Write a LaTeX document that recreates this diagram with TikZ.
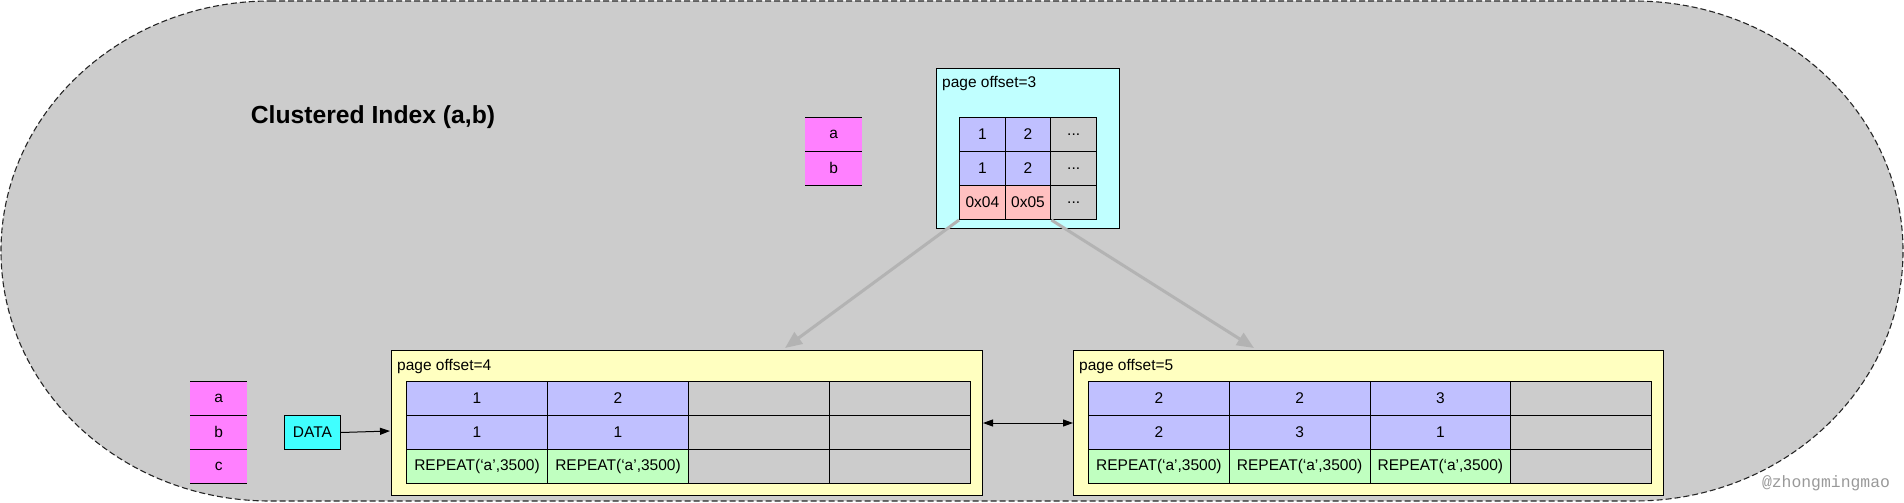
\documentclass[tikz,border=0pt]{standalone}
\usepackage{fontspec}
\setmainfont{Liberation Sans}
\newfontfamily\wmfont{Liberation Mono}
\usetikzlibrary{arrows.meta,calc}
\definecolor{bg}{HTML}{CCCCCC}
\definecolor{cyanpg}{HTML}{C0FFFF}
\definecolor{yelpg}{HTML}{FFFFC0}
\definecolor{lav}{HTML}{C0C0FF}
\definecolor{grn}{HTML}{C0FFC0}
\definecolor{pnk}{HTML}{FFC0C0}
\definecolor{mag}{HTML}{FF80FF}
\definecolor{datac}{HTML}{40FFFF}
\definecolor{arrg}{HTML}{B3B3B3}
\definecolor{wmc}{HTML}{999999}
\begin{document}
\begin{tikzpicture}[x=1pt,y=-1pt,
  font=\fontsize{15.5}{18}\selectfont,
  cell/.style={draw=black, line width=1pt, inner sep=0pt, anchor=north west, minimum height=34pt},
  tcell/.style={cell, minimum width=45.7pt},
  pcell/.style={cell, minimum width=141pt},
  qcell/.style={cell, minimum width=140.75pt},
  page/.style={draw=black, line width=1pt, inner sep=0pt, anchor=north west},
  keyc/.style={fill=mag, inner sep=0pt, anchor=north west, minimum width=57pt, minimum height=34pt},
  lbl/.style={anchor=base west, inner sep=0pt},
  grayarrow/.style={draw=arrg, line width=3pt, -{Triangle[length=17pt,width=14pt]}},
  blackarrow/.style={draw=black, line width=1pt, -{Triangle[length=10pt,width=7pt]}}
]
\useasboundingbox (0,0) rectangle (1904,503);
% outer container
\path[fill=bg, draw=black!85, dash pattern=on 6pt off 3pt, line width=1.1pt]
  (270,1) -- (1634,1) arc[start angle=90,end angle=-90,x radius=269pt,y radius=250pt]
  -- (270,501) arc[start angle=270,end angle=90,x radius=269pt,y radius=250pt] -- cycle;

% title
\node[font=\fontsize{24.7}{28}\selectfont\bfseries, inner sep=0pt] (title) at (373,117) {Clustered Index (a,b)};

% key a,b (top)
\node[keyc] (ka) at (805,117) {a};
\node[keyc] (kb) at (805,151) {b};
\draw[line width=1pt] (ka.north west) -- (ka.north east);
\draw[line width=1pt] (ka.south west) -- (ka.south east);
\draw[line width=1pt] (kb.south west) -- (kb.south east);

% key a,b,c (bottom)
\node[keyc] (la) at (190,381) {a};
\node[keyc] (lb) at (190,415) {b};
\node[keyc] (lc) at (190,449) {c};
\draw[line width=1pt] (la.north west) -- (la.north east);
\draw[line width=1pt] (la.south west) -- (la.south east);
\draw[line width=1pt] (lb.south west) -- (lb.south east);
\draw[line width=1pt] (lc.south west) -- (lc.south east);

% page 3
\node[page, fill=cyanpg, minimum width=183pt, minimum height=160pt] (p3) at (936,68) {};
\node[lbl] (p3l) at (942,88) {page offset=3};
\node[tcell, fill=lav] (t11) at (959,117) {1};
\node[tcell, fill=lav] (t12) at (1004.67,117) {2};
\node[tcell, fill=bg]  (t13) at (1050.33,117) {...};
\node[tcell, fill=lav] (t21) at (959,151) {1};
\node[tcell, fill=lav] (t22) at (1004.67,151) {2};
\node[tcell, fill=bg]  (t23) at (1050.33,151) {...};
\node[tcell, fill=pnk] (t31) at (959,185) {0x04};
\node[tcell, fill=pnk] (t32) at (1004.67,185) {0x05};
\node[tcell, fill=bg]  (t33) at (1050.33,185) {...};

% page 4
\node[page, fill=yelpg, minimum width=591pt, minimum height=145pt] (p4) at (391,350) {};
\node[lbl] (p4l) at (397,370) {page offset=4};
\node[pcell, fill=lav] (a11) at (406,381) {1};
\node[pcell, fill=lav] (a12) at (547,381) {2};
\node[pcell, fill=bg]  (a13) at (688,381) {};
\node[pcell, fill=bg]  (a14) at (829,381) {};
\node[pcell, fill=lav] (a21) at (406,415) {1};
\node[pcell, fill=lav] (a22) at (547,415) {1};
\node[pcell, fill=bg]  (a23) at (688,415) {};
\node[pcell, fill=bg]  (a24) at (829,415) {};
\node[pcell, fill=grn] (a31) at (406,449) {REPEAT(‘a’,3500)};
\node[pcell, fill=grn] (a32) at (547,449) {REPEAT(‘a’,3500)};
\node[pcell, fill=bg]  (a33) at (688,449) {};
\node[pcell, fill=bg]  (a34) at (829,449) {};

% page 5
\node[page, fill=yelpg, minimum width=590pt, minimum height=145pt] (p5) at (1073,350) {};
\node[lbl] (p5l) at (1079,370) {page offset=5};
\node[qcell, fill=lav] (b11) at (1088,381) {2};
\node[qcell, fill=lav] (b12) at (1228.75,381) {2};
\node[qcell, fill=lav] (b13) at (1369.5,381) {3};
\node[qcell, fill=bg]  (b14) at (1510.25,381) {};
\node[qcell, fill=lav] (b21) at (1088,415) {2};
\node[qcell, fill=lav] (b22) at (1228.75,415) {3};
\node[qcell, fill=lav] (b23) at (1369.5,415) {1};
\node[qcell, fill=bg]  (b24) at (1510.25,415) {};
\node[qcell, fill=grn] (b31) at (1088,449) {REPEAT(‘a’,3500)};
\node[qcell, fill=grn] (b32) at (1228.75,449) {REPEAT(‘a’,3500)};
\node[qcell, fill=grn] (b33) at (1369.5,449) {REPEAT(‘a’,3500)};
\node[qcell, fill=bg]  (b34) at (1510.25,449) {};

% DATA
\node[page, fill=datac, minimum width=56pt, minimum height=34pt] (data) at (284,415) {};
\node[inner sep=0pt] (datal) at (data.center) {DATA};

% connectors
\coordinate (t4) at (785,348);
\coordinate (t5) at (1254,348);
\coordinate (d4) at (390,431);
\draw[grayarrow] (t31.south west) -- (t4);
\draw[grayarrow] (t32.south east) -- (t5);
\draw[blackarrow] (data.east) -- (d4);
\draw[draw=black, line width=1pt, {Triangle[length=10pt,width=7pt]}-{Triangle[length=10pt,width=7pt]}] (p4.east) -- (p5.west);

% watermark
\node[font=\wmfont\fontsize{16.4}{18}\selectfont, text=wmc, inner sep=0pt] (wm) at (1826,483) {@zhongmingmao};
\end{tikzpicture}
\end{document}
